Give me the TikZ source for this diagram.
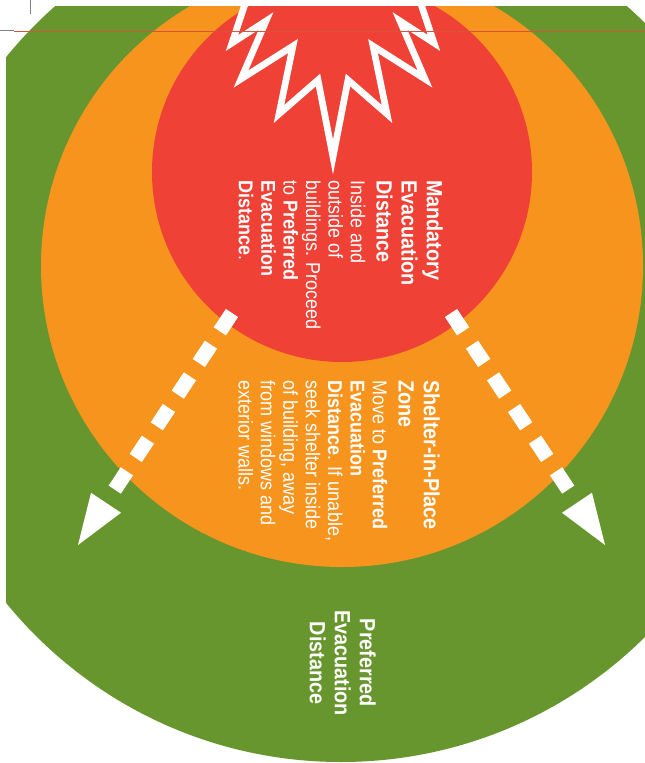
\documentclass[tikz,border=0pt]{standalone}
\usepackage{fontspec}
\setmainfont{Liberation Sans}[FakeStretch=0.9]
\usetikzlibrary{arrows.meta}

\definecolor{zonegreen}{RGB}{104,150,46}
\definecolor{zoneorange}{RGB}{247,148,30}
\definecolor{zonered}{RGB}{239,65,54}
\definecolor{cropred}{RGB}{214,84,60}

\newcommand{\headfont}{\fontsize{16.5pt}{18.75pt}\selectfont\bfseries}
\newcommand{\bodyfont}{\fontsize{15pt}{16.8pt}\selectfont}

\tikzset{
  zonetext/.style={rotate=-90, text=white, inner sep=0pt, align=left, font=\bodyfont},
  evacarrow/.style={draw=white, line width=11pt, dash pattern=on 16.5pt off 12pt,
    -{Triangle[length=38pt,width=27pt,line width=0pt]}},
  blast/.style={draw=white, line width=5pt, miter limit=10}
}

\begin{document}
\begin{tikzpicture}[x=0.75pt,y=-0.75pt]
\useasboundingbox (0,0) rectangle (645,763);
\fill[white] (0,0) rectangle (645,763);

% zones
\begin{scope}
\clip (6,7) rectangle (645,763);
\fill[zonegreen] (341,330) circle (432);
\fill[zoneorange] (342,266) circle (301);
\fill[zonered] (342,172) circle (190);
% blast
\draw[blast] (248,-5) -- (232,43) -- (266,21) -- (241,79) -- (293,46) -- (279,114)
  -- (318,80) -- (333,157) -- (348,80) -- (387,114) -- (373,46) -- (425,79)
  -- (400,21) -- (434,43) -- (418,-5);
\end{scope}

% crop marks
\draw[gray, line width=0.75pt] (30,0) -- (30,14);
\draw[gray, line width=0.75pt] (0,31) -- (14,31);
\draw[cropred, line width=0.6pt] (14,31) -- (645,31);

% evacuation arrows
\coordinate (lstart) at (232,313);
\coordinate (lend) at (78,545);
\coordinate (rstart) at (451,313);
\coordinate (rend) at (605,545);
\draw[evacarrow] (lstart) -- (lend);
\draw[evacarrow] (rstart) -- (rend);

% labels
\node[zonetext, anchor=north west] (mandatory) at (443,180)
  {{\headfont Mandatory}\\[2pt]{\headfont Evacuation}\\[2pt]{\headfont Distance}\\[2.5pt]Inside and\\outside of\\buildings. Proceed\\to \textbf{Preferred}\\\textbf{Evacuation}\\\textbf{Distance}.};
\node[zonetext, anchor=north west] (shelter) at (440,380)
  {{\headfont Shelter-in-Place}\\[2pt]{\headfont Zone}\\[2.5pt]Move to \textbf{Preferred}\\\textbf{Evacuation}\\\textbf{Distance}. If unable,\\seek shelter inside\\of building, away\\from windows and\\exterior walls.};
\node[zonetext, align=center, anchor=north, font=\headfont] (preferred) at (376,663)
  {Preferred\\Evacuation\\Distance};

\end{tikzpicture}
\end{document}
